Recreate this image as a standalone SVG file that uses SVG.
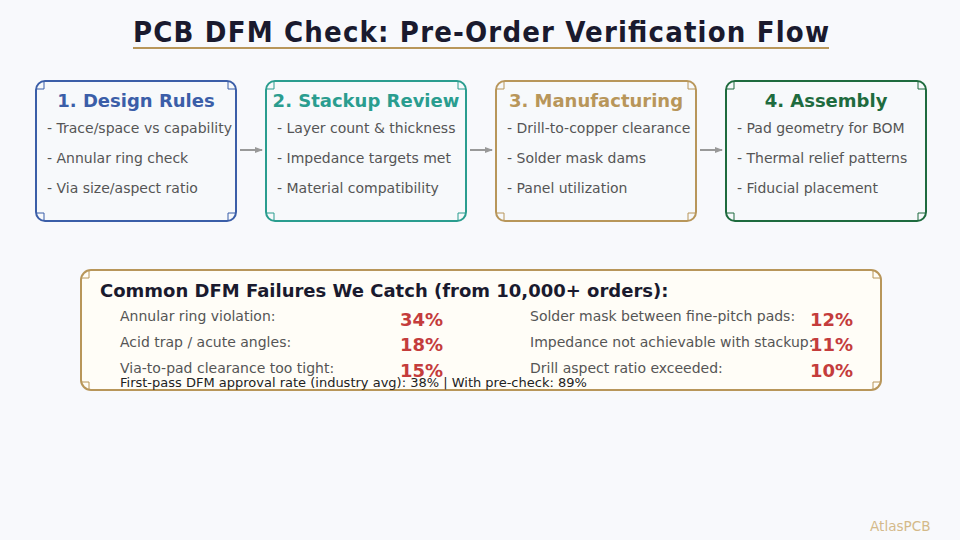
<svg xmlns="http://www.w3.org/2000/svg" width="960" height="540" viewBox="0 0 960 540">
<defs>
<marker id="arr" markerWidth="8" markerHeight="8" refX="7" refY="4" orient="auto" markerUnits="userSpaceOnUse">
<path d="M0,1 L8,4 L0,7 Z" fill="#999"/>
</marker>
<style>
text{font-family:"DejaVu Sans",Verdana,sans-serif}
.box{fill:#f7f9fb;stroke-width:2}
.corner{fill:none;stroke-width:1}
.bt{font-size:18px;font-weight:bold;text-anchor:middle}
.it{font-size:14px;fill:#555}
.fl{font-size:14px;fill:#555}
.pc{font-size:18px;font-weight:bold;fill:#c43c3c}
.conn{stroke:#999;stroke-width:2;fill:none}
</style>
</defs>
<rect width="960" height="540" fill="#f8f9fc"/>
<g id="title">
<text x="133" y="42" font-size="29" font-weight="bold" fill="#1a1a2e" style="font-family:'DejaVu Sans Condensed','DejaVu Sans',sans-serif" textLength="696" lengthAdjust="spacing">PCB DFM Check: Pre-Order Verification Flow</text>
<line x1="133" y1="48" x2="829" y2="48" stroke="#b8965a" stroke-width="2"/>
</g>
<g id="node1">
<rect class="box" x="36" y="81" width="200" height="140" rx="9" stroke="#3b5ea8"/>
<path class="corner" stroke="#3b5ea8" d="M36,89 H44 V81 M228,81 V89 H236 M36,213 H44 V221 M228,221 V213 H236"/>
<text class="bt" x="136" y="107" fill="#3b5ea8">1. Design Rules</text>
<text class="it" x="47" y="133">- Trace/space vs capability</text>
<text class="it" x="47" y="163">- Annular ring check</text>
<text class="it" x="47" y="193">- Via size/aspect ratio</text>
</g>
<g id="node2">
<rect class="box" x="266" y="81" width="200" height="140" rx="9" stroke="#2a9d8f"/>
<path class="corner" stroke="#2a9d8f" d="M266,89 H274 V81 M458,81 V89 H466 M266,213 H274 V221 M458,221 V213 H466"/>
<text class="bt" x="366" y="107" fill="#2a9d8f">2. Stackup Review</text>
<text class="it" x="277" y="133">- Layer count &amp; thickness</text>
<text class="it" x="277" y="163">- Impedance targets met</text>
<text class="it" x="277" y="193">- Material compatibility</text>
</g>
<g id="node3">
<rect class="box" x="496" y="81" width="200" height="140" rx="9" stroke="#b8965a"/>
<path class="corner" stroke="#b8965a" d="M496,89 H504 V81 M688,81 V89 H696 M496,213 H504 V221 M688,221 V213 H696"/>
<text class="bt" x="596" y="107" fill="#b8965a">3. Manufacturing</text>
<text class="it" x="507" y="133">- Drill-to-copper clearance</text>
<text class="it" x="507" y="163">- Solder mask dams</text>
<text class="it" x="507" y="193">- Panel utilization</text>
</g>
<g id="node4">
<rect class="box" x="726" y="81" width="200" height="140" rx="9" stroke="#1e6b3e"/>
<path class="corner" stroke="#1e6b3e" d="M726,89 H734 V81 M918,81 V89 H926 M726,213 H734 V221 M918,221 V213 H926"/>
<text class="bt" x="826" y="107" fill="#1e6b3e">4. Assembly</text>
<text class="it" x="737" y="133">- Pad geometry for BOM</text>
<text class="it" x="737" y="163">- Thermal relief patterns</text>
<text class="it" x="737" y="193">- Fiducial placement</text>
</g>
<g id="connectors">
<line class="conn" x1="240" y1="150" x2="262" y2="150" marker-end="url(#arr)"/>
<line class="conn" x1="470" y1="150" x2="492" y2="150" marker-end="url(#arr)"/>
<line class="conn" x1="700" y1="150" x2="722" y2="150" marker-end="url(#arr)"/>
</g>
<g id="failures">
<rect x="81" y="270" width="800" height="120" rx="10" fill="#fffdf7" stroke="#b8965a" stroke-width="2"/>
<path class="corner" stroke="#b8965a" d="M81,278 H89 V270 M873,270 V278 H881 M81,382 H89 V390 M873,390 V382 H881"/>
<text x="100" y="297" font-size="18" font-weight="bold" fill="#1a1a2e">Common DFM Failures We Catch (from 10,000+ orders):</text>
<text class="fl" x="120" y="321">Annular ring violation:</text>
<text class="pc" x="400" y="326">34%</text>
<text class="fl" x="120" y="347">Acid trap / acute angles:</text>
<text class="pc" x="400" y="351">18%</text>
<text class="fl" x="120" y="373">Via-to-pad clearance too tight:</text>
<text class="pc" x="400" y="377">15%</text>
<text class="fl" x="530" y="321">Solder mask between fine-pitch pads:</text>
<text class="pc" x="810" y="326">12%</text>
<text class="fl" x="530" y="347">Impedance not achievable with stackup:</text>
<text class="pc" x="810" y="351">11%</text>
<text class="fl" x="530" y="373">Drill aspect ratio exceeded:</text>
<text class="pc" x="810" y="377">10%</text>
<text x="120" y="387" font-size="13" fill="#222">First-pass DFM approval rate (industry avg): 38% | With pre-check: 89%</text>
</g>
<text x="870" y="531" font-size="13.6" fill="#d4b98a">AtlasPCB</text>
</svg>
